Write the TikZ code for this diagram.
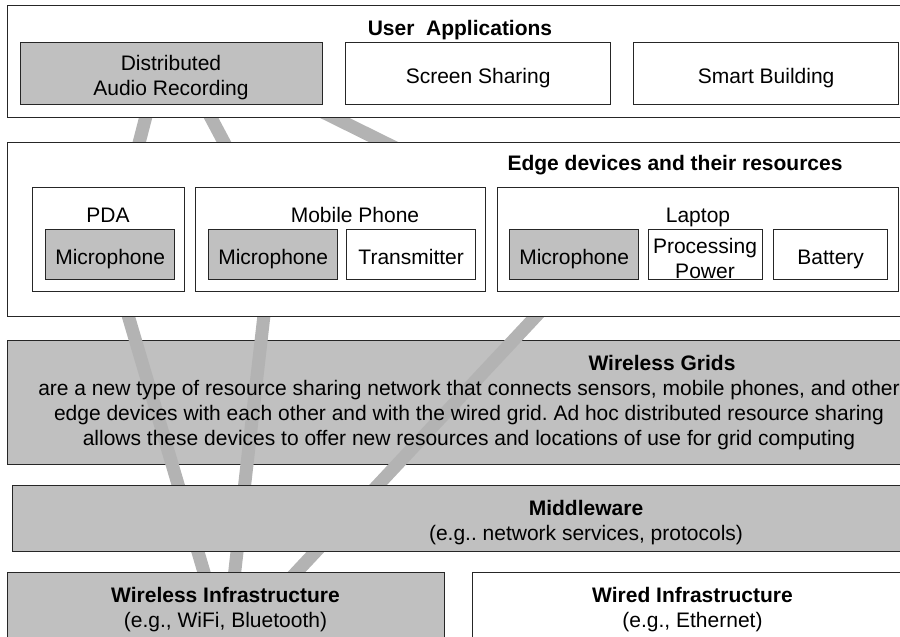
\documentclass[tikz,border=0pt]{standalone}
\usepackage{fontspec}
\setmainfont{Liberation Sans}
\definecolor{boxgray}{HTML}{C0C0C0}
\definecolor{linkgray}{HTML}{B3B3B3}
\pgfdeclarelayer{back}
\pgfdeclarelayer{links}
\pgfsetlayers{back,links,main}
\frenchspacing

\begin{document}
\begin{tikzpicture}[x=1pt,y=-1pt,
  every node/.style={font=\fontsize{21}{25}\selectfont},
  frame/.style={draw=black!85,line width=1.3pt,fill=white,anchor=north west,inner sep=0pt},
  shade/.style={frame,fill=boxgray},
  cell/.style={text height=19pt,text depth=0pt},
  title/.style={font=\fontsize{21}{25}\selectfont\bfseries,anchor=base},
  label/.style={anchor=base,align=center},
  link/.style={draw=linkgray,line width=13pt}]
\useasboundingbox (0,0) rectangle (900,637);
\clip (0,0) rectangle (900,637);

\begin{pgfonlayer}{back}
\node[shade,minimum width=916pt,minimum height=124pt] (grids) at (7,340) {};
\end{pgfonlayer}

\node[frame,minimum width=908pt,minimum height=112pt] (apps) at (7,5) {};
\node[shade,minimum width=302pt,minimum height=62pt] (audio) at (20,42) {};
\node[frame,cell,minimum width=265pt,minimum height=62pt] (screen) at (345,42) {Screen Sharing};
\node[frame,cell,minimum width=265pt,minimum height=62pt] (smart) at (633,42) {Smart Building};
\node[title] (appstitle) at (460,35) {User\ \ Applications};
\node[label] (audiotext) at (171,95) {Distributed\\Audio Recording};

\node[frame,minimum width=908pt,minimum height=174pt] (edge) at (7,142) {};
\node[title] (edgetitle) at (675,170) {Edge devices and their resources};
\node[frame,minimum width=152pt,minimum height=104pt] (pda) at (32,187) {};
\node[frame,minimum width=290pt,minimum height=104pt] (mobile) at (195,187) {};
\node[frame,minimum width=401pt,minimum height=104pt] (laptop) at (497,187) {};
\node[label] (pdalabel) at (108,222) {PDA};
\node[label] (moblabel) at (355,222) {Mobile Phone};
\node[label] (laplabel) at (698,222) {Laptop};
\node[shade,cell,minimum width=129pt,minimum height=50pt] (pdamic) at (45,229) {Microphone};
\node[shade,cell,minimum width=129pt,minimum height=50pt] (mobmic) at (208,229) {Microphone};
\node[frame,cell,minimum width=129pt,minimum height=50pt] (trans) at (346,229) {Transmitter};
\node[shade,cell,minimum width=129pt,minimum height=50pt] (lapmic) at (509,229) {Microphone};
\node[frame,minimum width=114pt,minimum height=50pt] (proc) at (648,229) {};
\node[frame,cell,minimum width=114pt,minimum height=50pt] (batt) at (773,229) {Battery};
\node[label] (proctext) at (705,278) {Processing\\Power};

\node[title] (gridstitle) at (662,370) {Wireless Grids};
\node[label] (gridstext) at (469,445) {are a new type of resource sharing network that connects sensors, mobile phones, and other\\
  edge devices with each other and with the wired grid. Ad hoc distributed resource sharing\\
  allows these devices to offer new resources and locations of use for grid computing};

\node[shade,minimum width=1154pt,minimum height=66pt] (mid) at (12,485) {};
\node[label] (midtext) at (586,540) {\textbf{Middleware}\\(e.g.. network services, protocols)};

\node[shade,minimum width=437pt,minimum height=74pt] (winfra) at (7,572) {};
\node[label] (winfratext) at (225.5,627) {\textbf{Wireless Infrastructure}\\(e.g., WiFi, Bluetooth)};
\node[frame,minimum width=440pt,minimum height=74pt] (wired) at (472,572) {};
\node[label] (wiredtext) at (692.5,627) {\textbf{Wired Infrastructure}\\(e.g., Ethernet)};

\coordinate (src) at (167,35);
\begin{pgfonlayer}{links}
\draw[link] (src) -- (pdamic.center) -- (winfra.south);
\draw[link] (src) -- ([yshift=20pt]mobmic.center) -- (winfra.south);
\draw[link] (src) -- ([xshift=25pt,yshift=6pt]lapmic.center) -- (winfra.south);
\end{pgfonlayer}
\end{tikzpicture}
\end{document}
